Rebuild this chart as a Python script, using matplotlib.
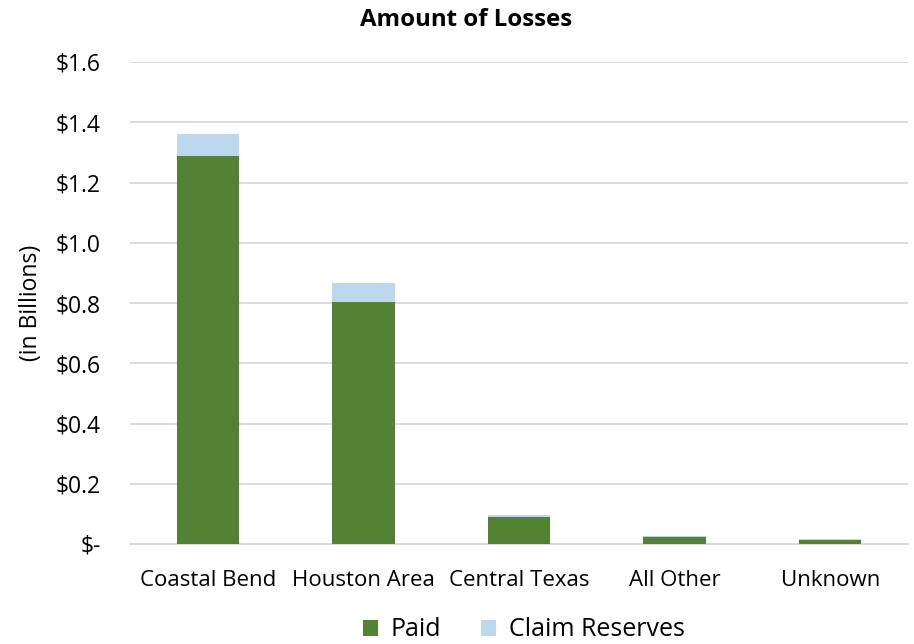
import matplotlib
matplotlib.use("Agg")
import matplotlib.pyplot as plt
import numpy as np

categories = ["Coastal Bend", "Houston Area", "Central Texas", "All Other", "Unknown"]
paid = [1.289, 0.803, 0.091, 0.023, 0.014]
reserves = [0.072, 0.063, 0.006, 0.004, 0.004]
yticks = [0, 0.2, 0.4, 0.6, 0.8, 1.0, 1.2, 1.4, 1.6]
ytick_labels = ["$-", "$0.2", "$0.4", "$0.6", "$0.8", "$1.0", "$1.2", "$1.4", "$1.6"]

plt.rcParams['font.family'] = ['Open Sans', 'DejaVu Sans']

fig = plt.figure(figsize=(9.14, 6.44), dpi=100)
ax = fig.add_axes([130/914, 100/644, 778/914, 482/644])

x = np.arange(len(categories))
green = "#548235"
blue = "#BDD7EE"
ax.bar(x, paid, width=0.4, color=green, label="Paid", zorder=3)
ax.bar(x, reserves, width=0.4, bottom=paid, color=blue, label="Claim Reserves", zorder=3)

ax.set_xlim(-0.5, len(categories) - 0.5)
ax.set_ylim(0, 1.6)
ax.set_yticks(yticks)
ax.set_yticklabels(ytick_labels, fontsize=16.5, color="#000000")
ax.set_xticks(x)
ax.set_xticklabels(categories, fontsize=16, color="#000000")
ax.tick_params(axis='x', length=0, pad=19)
ax.tick_params(axis='y', length=0, pad=21)
ax.yaxis.grid(True, color="#D9D9D9", linewidth=1.3, zorder=0)
for s in ["top", "right", "left"]:
    ax.spines[s].set_visible(False)
ax.spines["bottom"].set_color("#D9D9D9")
ax.spines["bottom"].set_linewidth(1.3)

ax.set_ylabel("(in Billions)", fontsize=16.5, color="#000000")
ax.yaxis.set_label_coords(-0.112, 0.5)

fig.text(466/914, 1 - 20/644, "Amount of Losses", fontsize=17.3, fontweight="bold",
         ha="center", va="center", color="#000000")

leg = fig.legend(loc="center", bbox_to_anchor=(524/914, 1 - 630/644), ncol=2, frameon=False,
                 fontsize=18, handlelength=0.6, handleheight=0.6, columnspacing=1.6,
                 handletextpad=0.5, borderpad=0)

fig.savefig("out.png", dpi=100)
